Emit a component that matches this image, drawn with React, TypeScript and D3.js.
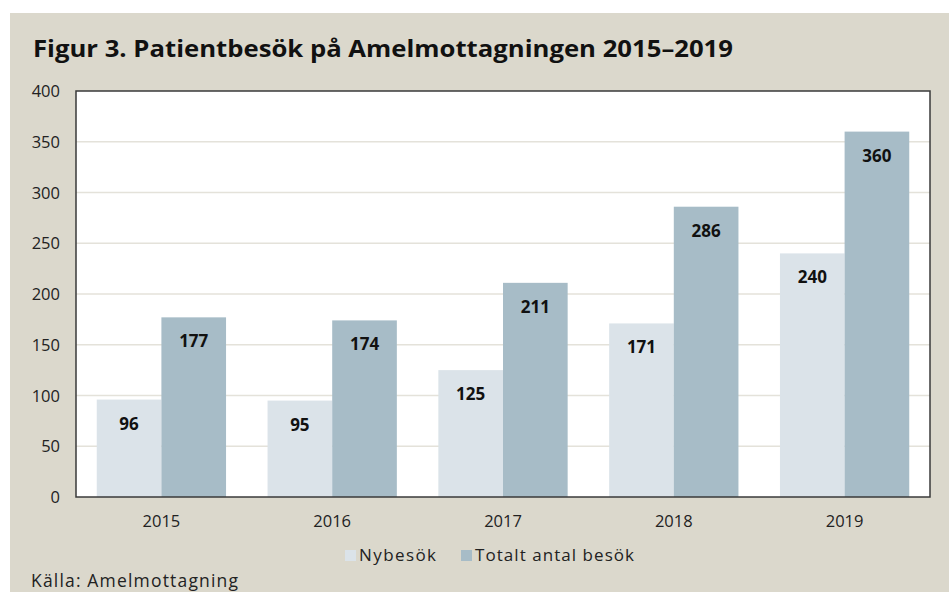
import React from "react";
import * as d3 from "d3";

const years = ["2015", "2016", "2017", "2018", "2019"];
const nybesok = [96, 95, 125, 171, 240];
const totalt = [177, 174, 211, 286, 360];
const seriesNames = ["Nybesök", "Totalt antal besök"];
const yTicks = [0, 50, 100, 150, 200, 250, 300, 350, 400];
const title = "Figur 3. Patientbesök på Amelmottagningen 2015–2019";
const source = "Källa: Amelmottagning";

const W = 949;
const H = 592;
const plot = { left: 76, right: 930, top: 91, bottom: 497 };
const colors = ["#dbe3e9", "#a7bcc7"];
const font = "'Open Sans', 'DejaVu Sans', sans-serif";

export default function App() {
  const x0 = d3
    .scaleBand<string>()
    .domain(years)
    .range([plot.left, plot.right])
    .paddingInner(0.243)
    .paddingOuter(0.1215);
  const x1 = d3
    .scaleBand<string>()
    .domain(seriesNames)
    .range([0, x0.bandwidth()])
    .padding(0);
  const y = d3.scaleLinear().domain([0, 400]).range([plot.bottom, plot.top]);
  const series = [nybesok, totalt];

  return (
    <svg
      width={W}
      height={H}
      style={{ position: "absolute", left: 0, top: 0, fontVariantLigatures: "none" }}
      fontFamily={font}
    >
      <rect x={0} y={0} width={W} height={H} fill="#ffffff" />
      <rect x={10} y={13} width={W - 10} height={H - 13} fill="#dbd8cc" />
      <text
        x={33}
        y={57}
        fontSize={23}
        fontWeight={700}
        fill="#111"
        textLength={700}
        lengthAdjust="spacingAndGlyphs"
      >
        {title}
      </text>
      <rect
        x={plot.left}
        y={plot.top}
        width={plot.right - plot.left}
        height={plot.bottom - plot.top}
        fill="#ffffff"
      />
      {yTicks.slice(1, -1).map((t) => (
        <line
          key={"g" + t}
          x1={plot.left}
          x2={plot.right}
          y1={y(t)}
          y2={y(t)}
          stroke="#e4e2da"
          strokeWidth={1.5}
        />
      ))}
      {years.map((yr, i) =>
        series.map((s, j) => {
          const bx = (x0(yr) as number) + (x1(seriesNames[j]) as number);
          const bw = x1.bandwidth();
          const top = y(s[i]);
          return (
            <g key={yr + j}>
              <rect
                x={bx}
                y={top}
                width={bw}
                height={y(0) - top}
                fill={colors[j]}
              />
              <text
                x={bx + bw / 2}
                y={top + 30}
                textAnchor="middle"
                fontSize={17}
                fontWeight={700}
                fill="#111"
              >
                {s[i]}
              </text>
            </g>
          );
        })
      )}
      <rect
        x={plot.left}
        y={plot.top}
        width={plot.right - plot.left}
        height={plot.bottom - plot.top}
        fill="none"
        stroke="#3a3a3a"
        strokeWidth={1.5}
      />
      {yTicks.map((t) => (
        <text
          key={"t" + t}
          x={60}
          y={y(t) + 6}
          textAnchor="end"
          fontSize={16.5}
          fill="#222"
        >
          {t}
        </text>
      ))}
      {years.map((yr) => (
        <text
          key={"x" + yr}
          x={(x0(yr) as number) + x0.bandwidth() / 2}
          y={527}
          textAnchor="middle"
          fontSize={16.5}
          fill="#222"
        >
          {yr}
        </text>
      ))}
      <rect x={345} y={550} width={11} height={11} fill={colors[0]} />
      <text x={359} y={561} fontSize={17} fill="#222" textLength={77}>
        {seriesNames[0]}
      </text>
      <rect x={461} y={550} width={11} height={11} fill={colors[1]} />
      <text x={475} y={561} fontSize={17} fill="#222" textLength={159}>
        {seriesNames[1]}
      </text>
      <text x={31} y={587} fontSize={17.5} fill="#222" textLength={207}>
        {source}
      </text>
    </svg>
  );
}
